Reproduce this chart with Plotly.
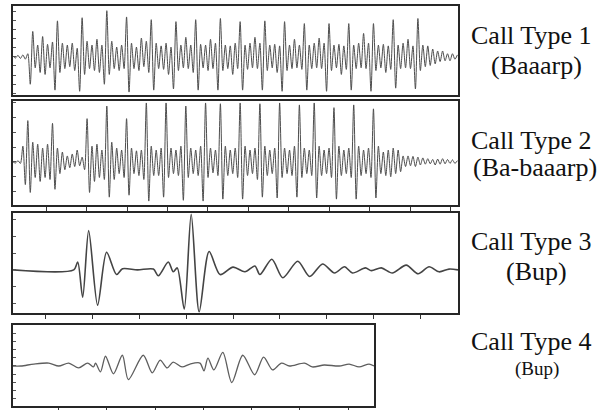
import plotly.graph_objects as go

# Sample spacing (ms) of the digitised extrema of the two long pulsed calls
STEP_MS = 2.48

# Call type 1 ("Baaarp"): successive extrema, relative amplitude
call1_amp = [
    2, -3, 4, -4, 5, -6, 8, -70, 65, -28, 30, -40, 52, -45, 32, -28, 38, -85, 92,
    -40, 35, -30, 30, -25, 35, -35, 22, -88, 100,
    -45, 40, -30, 30, -35, 45, -40, 30, -70, 118,
    -45, 40, -30, 25, -35, 30, -30, 102, -90,
    35, -30, 25, -35, 48, -25, 40, -40, 95, -85,
    35, -30, 28, -32, 35, -45, 25, -82, 90,
    -35, 30, -28, 50, -30, 30, -40, 95, -85,
    32, -28, 30, -35, 45, -30, 35, -85, 98,
    -35, 30, -30, 28, -45, 35, -30, 90, -85,
    30, -32, 35, -28, 50, -30, 35, -85, 92,
    -35, 30, -28, 32, -40, 28, -88, 90,
    -35, 30, -30, 45, -28, 30, -32, 85, -85,
    30, -30, 35, -28, 48, -30, 35, -88, 85,
    -35, 30, -28, 32, -45, 28, -32, 85, -85,
    30, -30, 35, -28, 60, -30, 35, -88, 85,
    -35, 30, -28, 32, -40, 28, -32, 95, -80,
    30, -30, 35, -28, 45, -30, 28, -82, 98,
    -35, 30, -25, 28, -22, 20, -18, 15, -12, 15, -10, 8, -10, 8, -6, 5,
]

# Call type 2 ("Ba-baaarp")
call2_amp = [
    0, -3, 3, -4, 40, -58, 105, -78, 50, -40, 45, -50, 35, -40, 45, -45,
    98, -70, 35, -30, 25, -20, 15, -15, 20, -12, 30, -10, 12, -20,
    110, -78, 40, -50, 45, -40, 30, -45, 142, -90,
    50, -45, 35, -30, 30, -40, 110, -85,
    35, -30, 28, -35, 30, -45, 150, -100,
    40, -35, 30, -35, 35, -90, 150,
    -40, 35, -30, 30, -35, 40, -98, 142,
    -40, 35, -30, 30, -35, 40, -100, 150,
    -40, 35, -28, 30, -35, 148, -95,
    40, -35, 30, -30, 35, -40, 150, -95,
    40, -35, 30, -30, 35, -45, 148, -90,
    40, -35, 30, -30, 35, -92, 150,
    -40, 35, -30, 30, -35, 40, -90, 145,
    -40, 35, -30, 30, -35, 150, -92,
    40, -35, 30, -30, 35, -40, 138, -95,
    40, -35, 30, -30, 35, -40, 145, -95,
    40, -35, 30, -30, 35, -40, 135, -92,
    40, -30, 25, -35, 30, -38, 35, -30, 30, -25, 15, -12, 15, -10, 14, -12,
    12, -8, 10, -6, 8, -5, 6, -8, 7, -6, 8, -5, 6, -4, 5, -4, 3,
]

# Call type 3 ("Bup"): extrema as (time ms, relative amplitude)
call3_t = [0, 61, 65, 70, 76, 85, 94, 104, 110, 125, 141, 146, 156, 161, 165,
           172, 179, 187, 197, 208, 221, 233, 243, 248, 260, 271, 286, 298,
           311, 323, 333, 341, 354, 360, 370, 381, 395, 407, 418, 428, 438, 447]
call3_amp = [0, 0, 20, -70, 100, -90, 45, -12, 3, 0, 2, -15, 20, -5, 5,
             -100, 142, -107, 47, -12, 7, -5, 10, -12, 27, -20, 22, -17,
             15, -8, 8, -8, 5, -2, 5, -8, 12, -10, 8, -5, 2, 0]

# Call type 4 ("Bup")
call4_t = [0, 8, 21, 36, 46, 56, 66, 75, 81, 83, 88, 93, 101, 110, 116, 131,
           140, 148, 155, 161, 170, 178, 188, 192, 196, 202, 211, 220, 231,
           243, 252, 261, 270, 278, 293, 301, 313, 328, 338, 348, 358, 363]
call4_amp = [0, 0, 5, 7.5, 0, 7.5, -5, 7.5, -2.5, 7.5, -15, 25, -20, 27.5,
             -35, 27.5, -17.5, 15, -5, 10, -2.5, 5, 7.5, -12.5, 20, -10, 35,
             -42.5, 27.5, -22.5, 22.5, -10, 7.5, 0, 7.5, -2.5, 2.5, 0, 5,
             -2.5, 5, 0]

call_titles = ["Call Type 1", "Call Type 2", "Call Type 3", "Call Type 4"]
call_names = ["(Baaarp)", "(Ba-baaarp)", "(Bup)", "(Bup)"]

W, H = 611, 410
SERIF = "Liberation Serif, Times New Roman, serif"

call1_t = [i * STEP_MS for i in range(len(call1_amp))]
call2_t = [i * STEP_MS for i in range(len(call2_amp))]

series = [
    (call1_t, call1_amp, "#4d4d4d", 1.0),
    (call2_t, call2_amp, "#4d4d4d", 1.0),
    (call3_t, call3_amp, "#444444", 1.6),
    (call4_t, call4_amp, "#5e5e5e", 1.3),
]

fig = go.Figure()
for k, (t, a, col, w) in enumerate(series):
    sfx = "" if k == 0 else str(k + 1)
    fig.add_trace(go.Scatter(
        x=t, y=a, mode="lines", xaxis="x" + sfx, yaxis="y" + sfx,
        line=dict(color=col, width=w, shape="spline", smoothing=0.8),
        hoverinfo="skip", showlegend=False,
    ))

# panel frames in pixels (centre of the frame line): left, right, top, bottom
boxes = [(12, 459, 5, 96), (12, 459, 100, 206), (12, 459, 212, 314), (12, 375, 324, 407)]
x_ranges = [[0, 447], [0, 447], [0, 447], [0, 363]]
y_ranges = [[-97.5, 130], [-110, 155], [-110, 145], [-102.5, 105]]
x_ticks = [None, (33.4, 40.6), (33, 47), (46, 48.5)]
y_dticks = [23.3, 37.5, 43, 20.8]

layout = dict(
    width=W, height=H, margin=dict(l=0, r=0, t=0, b=0),
    paper_bgcolor="white", plot_bgcolor="white",
)
for k, (l, r, tp, bt) in enumerate(boxes):
    sfx = "" if k == 0 else str(k + 1)
    # the frame line is drawn just outside the plot area, so pull the domain in by 1px
    xa = dict(
        domain=[(l + 1) / W, (r - 1) / W], range=x_ranges[k], anchor="y" + sfx,
        showline=True, mirror=True, linecolor="#262626", linewidth=2,
        showgrid=False, zeroline=False, showticklabels=False, fixedrange=True,
    )
    if x_ticks[k] is None:
        xa["ticks"] = ""
    else:
        xa.update(ticks="outside", ticklen=4, tickwidth=1, tickcolor="#333",
                  tick0=x_ticks[k][0], dtick=x_ticks[k][1])
    ya = dict(
        domain=[1 - (bt - 1) / H, 1 - (tp + 1) / H], range=y_ranges[k], anchor="x" + sfx,
        showline=True, mirror=True, linecolor="#262626", linewidth=2,
        showgrid=False, zeroline=False, showticklabels=False, fixedrange=True,
        ticks="inside", ticklen=3, tickwidth=1, tickcolor="#555",
        tick0=0, dtick=y_dticks[k],
    )
    layout["xaxis" + sfx] = xa
    layout["yaxis" + sfx] = ya

# label positions (pixel centres) and font sizes
title_pos = [(531, 36), (531, 140), (531, 241), (531, 341)]
name_pos = [(536, 65), (535, 168), (536, 271), (537, 369)]
title_size = 26
name_size = [26, 26, 26, 19]
annots = []
for k in range(4):
    annots.append(dict(
        text=call_titles[k], x=title_pos[k][0] / W, y=1 - title_pos[k][1] / H,
        xref="paper", yref="paper", xanchor="center", yanchor="middle",
        showarrow=False, font=dict(family=SERIF, size=title_size, color="#111"),
    ))
    annots.append(dict(
        text=call_names[k], x=name_pos[k][0] / W, y=1 - name_pos[k][1] / H,
        xref="paper", yref="paper", xanchor="center", yanchor="middle",
        showarrow=False, font=dict(family=SERIF, size=name_size[k], color="#111"),
    ))
layout["annotations"] = annots

fig.update_layout(**layout)
fig.write_html("out.html")
